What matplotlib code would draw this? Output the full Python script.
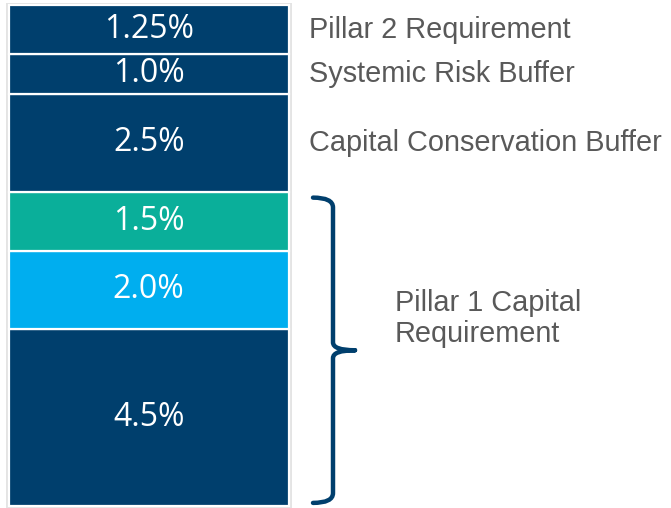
import matplotlib.pyplot as plt
from matplotlib.path import Path
from matplotlib.patches import PathPatch, Rectangle

# capital stack, bottom to top (%)
values = [4.5, 2.0, 1.5, 2.5, 1.0, 1.25]
labels = ["4.5%", "2.0%", "1.5%", "2.5%", "1.0%", "1.25%"]
colors = ["#003F6D", "#00AEEF", "#0AAF9A", "#003F6D", "#003F6D", "#003F6D"]
side_names = {3: "Capital Conservation Buffer", 4: "Systemic Risk Buffer", 5: "Pillar 2 Requirement"}
pillar1_count = 3
pillar1_name = "Pillar 1 Capital\nRequirement"

navy = "#003F6D"
grey = "#595959"

fig = plt.figure(figsize=(6.71, 5.08), dpi=100)
ax = fig.add_axes([0, 0, 1, 1])
total = sum(values)
ax.set_xlim(0, 671)
ax.set_ylim(-0.05, total + 0.13)
ax.axis("off")

bar_x = 148.75
bar_w = 280.5

# faint shadow behind the bar
ax.add_patch(Rectangle((bar_x - bar_w / 2 - 3, -0.06), bar_w + 6, total + 0.12,
                       facecolor="#e4e4e4", edgecolor="none", zorder=0))

bottom = 0
for i, v in enumerate(values):
    ax.bar(bar_x, v, bottom=bottom, width=bar_w, color=colors[i],
           edgecolor="white", linewidth=1.6, zorder=2)
    ax.text(bar_x, bottom + v / 2, labels[i], color="white", ha="center", va="center",
            fontsize=23, family="Open Sans", zorder=3)
    if i in side_names:
        ax.text(309, bottom + v / 2, side_names[i], color=grey, ha="left", va="center",
                fontsize=20.8, family="Liberation Sans")
    bottom += v

# curly bracket for pillar 1
ytop = sum(values[:pillar1_count]) - 0.15
ybot = 0.08
ymid = (ytop + ybot) / 2
verts = [(313, ytop), (333, ytop), (333, ytop - 0.25),
         (333, ymid + 0.2), (333, ymid), (355, ymid),
         (355, ymid), (333, ymid), (333, ymid - 0.2),
         (333, ybot + 0.25), (333, ybot), (313, ybot)]
codes = [Path.MOVETO, Path.CURVE3, Path.CURVE3,
         Path.LINETO, Path.CURVE3, Path.CURVE3,
         Path.MOVETO, Path.CURVE3, Path.CURVE3,
         Path.LINETO, Path.CURVE3, Path.CURVE3]
ax.add_patch(PathPatch(Path(verts, codes), facecolor="none", edgecolor=navy,
                       linewidth=3.2, capstyle="round", zorder=3))

ax.text(395, ymid + 0.8, pillar1_name, color=grey, ha="left", va="center",
        fontsize=20.8, family="Liberation Sans", linespacing=1.15)

fig.savefig("out.png", dpi=100)
